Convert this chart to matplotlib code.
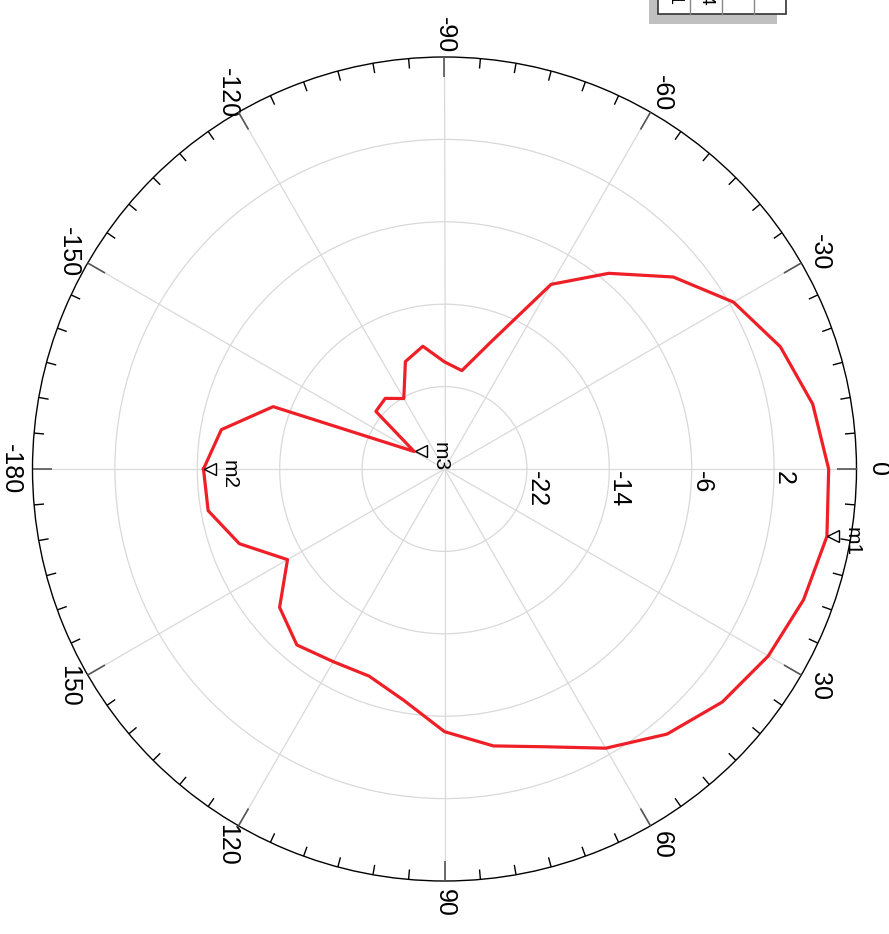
import numpy as np
import matplotlib
matplotlib.use("Agg")
import matplotlib.pyplot as plt
from matplotlib.patches import Rectangle
from matplotlib.lines import Line2D
import matplotlib.transforms as mtransforms

plt.rcParams['font.family'] = ['Liberation Sans', 'DejaVu Sans']

# ---- data ----
theta_deg = [-180, -170, -160, -150, -140, -130, -120, -110, -100, -90, -80, -70,
             -60, -50, -40, -30, -20, -10, 0, 10, 20, 30, 40, 50, 60, 70, 80, 90,
             100, 110, 120, 130, 140, 150, 160, 170, 180]
gain_db = [-6.6, -8.0, -12.3, -26.6, -21.3, -21.05, -22.1, -18.9, -17.9, -19.6, -20.3, -16.9,
           -9.3, -5.2, -1.0, 2.4, 4.7, 6.3, 7.3, 7.7, 7.1, 6.3, 5.2, 3.6, 1.3, -1.3, -2.7, -4.5,
           -7.2, -8.6, -8.4, -7.7, -9.1, -12.4, -8.8, -6.7, -6.6]

marker_names = ['m1', 'm2', 'm3']
marker_theta = [10, 180, -150]

ring_values = [-22, -14, -6, 2]
ring_labels = ['-22', '-14', '-6', '2']
r_min, r_max = -30, 10

angle_ticks = [0, 30, 60, 90, 120, 150, 180, 210, 240, 270, 300, 330]
angle_labels = ['0', '30', '60', '90', '120', '150', '-180', '-150', '-120', '-90', '-60', '-30']
minor_step = 5

table_texts = ['m1', '7.6914']

# ---- figure ----
W, H = 889, 934
fig = plt.figure(figsize=(W / 100, H / 100), dpi=100)
cx, cy, R = 444.5, 469, 412
ax = fig.add_axes([(cx - R) / W, (H - cy - R) / H, 2 * R / W, 2 * R / H], projection='polar')
ax.set_theta_zero_location('E')
ax.set_theta_direction(-1)
ax.set_ylim(r_min, r_max)

ax.set_yticks(ring_values)
ax.set_yticklabels([])
ax.set_xticks(np.deg2rad(angle_ticks))
ax.set_xticklabels([])
ax.tick_params(axis='both', length=0)
ax.grid(True, color='#d9d9d9', lw=0.9)
ax.spines['polar'].set_color('black')
ax.spines['polar'].set_linewidth(1.0)

px_to_db = (r_max - r_min) / R

# tick marks along the outer circle (inward)
for a in np.arange(0, 360, minor_step):
    major = (a % 30 == 0)
    L = 20 if major else 10
    ax.plot([np.deg2rad(a)] * 2, [r_max, r_max - L * px_to_db],
            color='#555555' if major else 'black', lw=1.2 if major else 1.0,
            solid_capstyle='butt', zorder=4, clip_on=False)

# curve
ax.plot(np.deg2rad(theta_deg), gain_db, color='#ee1f26', lw=2.3, zorder=5, clip_on=False)

# markers
off = mtransforms.ScaledTranslation(0.065, 0, fig.dpi_scale_trans)
for name, th in zip(marker_names, marker_theta):
    r = gain_db[theta_deg.index(th)]
    ax.plot([np.deg2rad(th)], [r], marker='<', ms=9, mfc='white', mec='black', mew=1.0,
            transform=ax.transData + off, zorder=6, clip_on=False)
    ax.annotate(name, xy=(np.deg2rad(th), r), xytext=(16, 9), textcoords='offset pixels',
                rotation=-90, ha='left', va='top', fontsize=15, zorder=7)

# ring labels
for rv, lab in zip(ring_values, ring_labels):
    ax.annotate(lab, xy=(0, rv), xytext=(-2, -2), textcoords='offset pixels',
                rotation=-90, ha='left', va='top', fontsize=18)

# angle labels
r_lab = r_min + (434 / R) * (r_max - r_min)
for a, lab in zip(angle_ticks, angle_labels):
    ax.text(np.deg2rad(a), r_lab, lab, rotation=-90, ha='center', va='center',
            fontsize=18, clip_on=False)

# partial table at top right
def fx(x):
    return x / W

def fy(y):
    return 1 - y / H

fig.add_artist(Rectangle((fx(649), fy(24)), fx(777) - fx(649), fy(0) - fy(24) + 0.02,
                         transform=fig.transFigure, facecolor='#c0c0c0', edgecolor='none'))
fig.add_artist(Rectangle((fx(658), fy(14)), fx(786) - fx(658), fy(0) - fy(14) + 0.02,
                         transform=fig.transFigure, facecolor='white', edgecolor='#333333', lw=1.2))
for xv in [690, 722, 754]:
    fig.add_artist(Line2D([fx(xv), fx(xv)], [fy(14), 1.0], transform=fig.transFigure,
                          color='#888888', lw=1.0))
for xc, t in zip([674, 706], table_texts):
    fig.text(fx(xc), fy(6), t, rotation=-90, ha='center', va='bottom', fontsize=14)

fig.savefig('out.png', dpi=100, facecolor='white')
